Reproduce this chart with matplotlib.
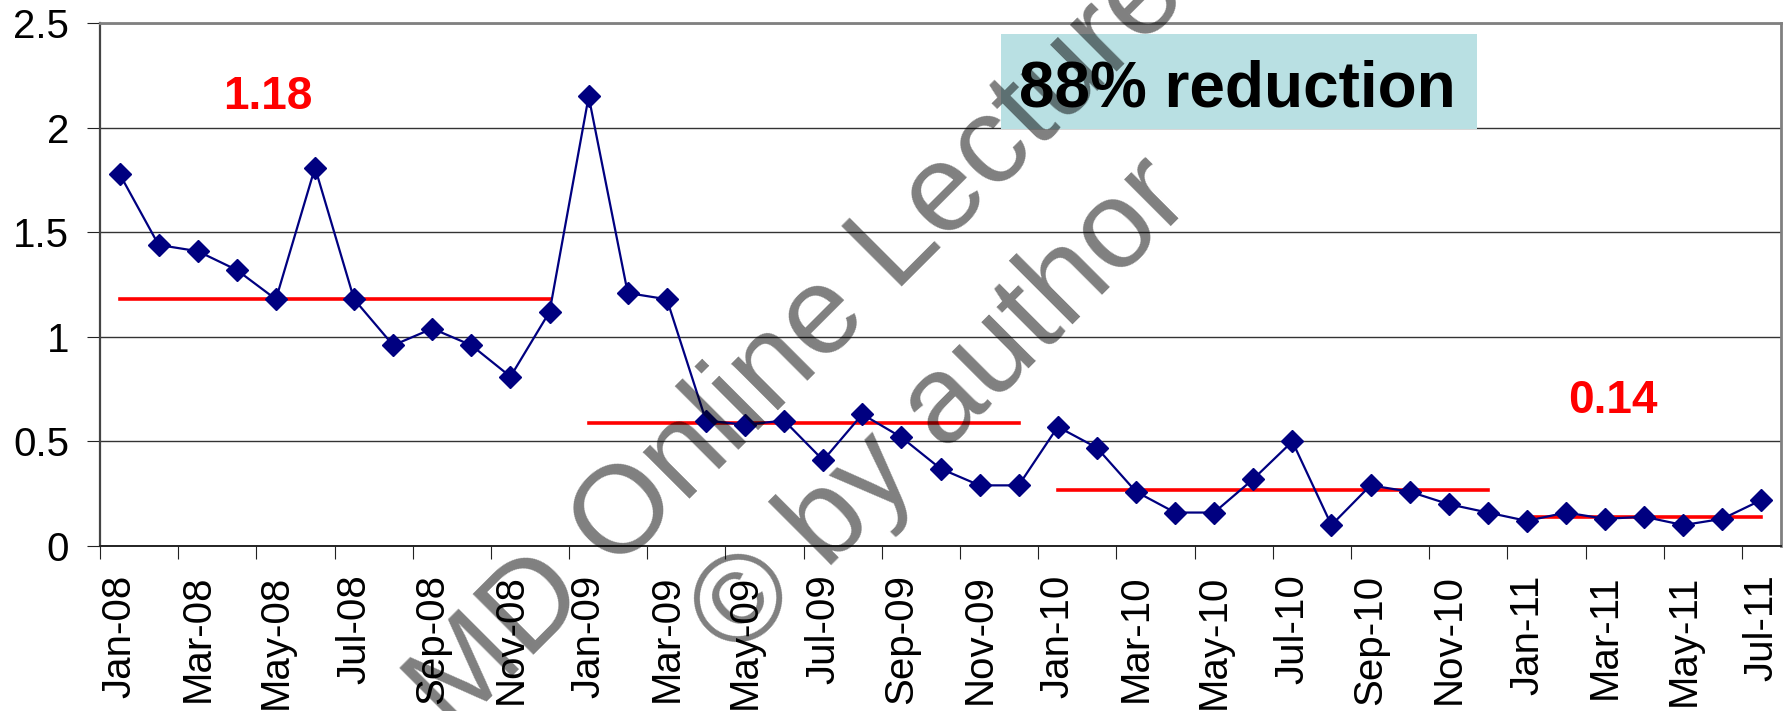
import matplotlib
matplotlib.use("Agg")
import matplotlib.pyplot as plt
import numpy as np
import pandas as pd
from matplotlib.patches import Rectangle
from matplotlib.ticker import FixedLocator, FuncFormatter

# monthly values, Jan-08 .. Jul-11
months = list(pd.date_range("2008-01-01", periods=43, freq="MS").strftime("%b-%y"))
values = [1.78, 1.44, 1.41, 1.32, 1.18, 1.81, 1.18, 0.96, 1.04, 0.96, 0.81, 1.12,
          2.15, 1.21, 1.18, 0.60, 0.58, 0.60, 0.41, 0.63, 0.52, 0.37, 0.29, 0.29,
          0.57, 0.47, 0.26, 0.16, 0.16, 0.32, 0.50, 0.10, 0.29, 0.26, 0.20, 0.16,
          0.12, 0.16, 0.13, 0.14, 0.10, 0.13, 0.22]

# yearly average levels (red lines): first / last month index
mean_levels = [1.18, 0.59, 0.27, 0.14]
mean_start = [0, 12, 24, 36]
mean_end = [11, 23, 35, 42]

plt.rcParams['font.family'] = ['Liberation Sans', 'DejaVu Sans']

W, H = 1789, 711
fig = plt.figure(figsize=(W / 100, H / 100), dpi=100)
ax = fig.add_axes([100 / W, 1 - 546 / H, 1681 / W, (546 - 23.3) / H])

x = np.arange(len(values))

for lvl, s, e in zip(mean_levels, mean_start, mean_end):
    ax.plot([s, e], [lvl, lvl], color='#FF0000', lw=2.6, zorder=2)

ax.plot(x, values, color='#000080', lw=1.6, marker='D', markersize=11.3,
        markerfacecolor='#000080', markeredgecolor='#000080', zorder=3)

ax.set_xlim(-0.5, len(values) - 0.5)
ax.set_ylim(0, 2.5)

# y axis
ax.set_yticks(np.arange(0, 2.51, 0.5))
ax.yaxis.set_major_formatter(FuncFormatter(lambda v, p: '%g' % v))
ax.yaxis.grid(True, color='#333333', lw=1.0)
ax.set_axisbelow(True)

# x axis: tick marks between categories, labels every 2nd month
ax.xaxis.set_major_locator(FixedLocator(np.arange(-0.5, len(values) - 1, 2)))
ax.xaxis.set_major_formatter(FuncFormatter(lambda v, p: ''))
ax.xaxis.set_minor_locator(FixedLocator(x[::2]))
ax.set_xticklabels(months[::2], minor=True, rotation=90)
ax.tick_params(axis='x', which='minor', length=0, pad=20.5, labelsize=29)
ax.tick_params(axis='x', which='major', length=9.4, width=0.8, color='#222222')
ax.tick_params(axis='y', length=9.4, width=0.8, color='#222222', pad=13, labelsize=29)

for side in ['top', 'right']:
    ax.spines[side].set_color('#808080')
    ax.spines[side].set_linewidth(2)
ax.spines['left'].set_color('#444444')
ax.spines['left'].set_linewidth(1.6)
ax.spines['bottom'].set_color('#222222')
ax.spines['bottom'].set_linewidth(1.4)

# annotations
ax.text(0.0996, 0.836, '1.18', transform=ax.transAxes, color='#FF0000',
        fontsize=33, fontweight='bold', ha='center', va='baseline')
ax.text(0.900, 0.2554, '0.14', transform=ax.transAxes, color='#FF0000',
        fontsize=33, fontweight='bold', ha='center', va='baseline')

fig.patches.append(Rectangle((1001 / W, 1 - 129 / H), 476 / W, 95 / H,
                             transform=fig.transFigure, facecolor='#B9E0E3',
                             edgecolor='none', zorder=1))
fig.text(1237.8 / W, 1 - 106.7 / H, '88% reduction', fontsize=46, fontweight='bold',
         color='black', ha='center', va='baseline', zorder=2)

# watermark
fig.text(821 / W, 1 - 322 / H, 'MD Online Lectures', rotation=45, rotation_mode='anchor',
         ha='center', va='center', fontsize=90, color='black', alpha=0.5, zorder=5)
fig.text(943 / W, 1 - 409 / H, '\u00a9 by author', rotation=45, rotation_mode='anchor',
         ha='center', va='center', fontsize=90, color='black', alpha=0.5, zorder=5)

fig.savefig('out.png', dpi=100)
